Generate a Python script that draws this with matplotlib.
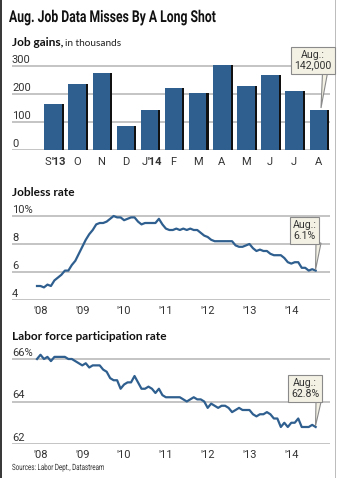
import matplotlib
matplotlib.use("Agg")
import matplotlib.pyplot as plt
from matplotlib.patches import Polygon, Rectangle
from matplotlib.patheffects import AbstractPathEffect
from matplotlib.transforms import Affine2D
import numpy as np

# ---------------- data ----------------
bar_labels = ["S'13", "O", "N", "D", "J'14", "F", "M", "A", "M", "J", "J", "A"]
job_gains = [164, 237, 274, 84, 144, 222, 203, 304, 229, 267, 212, 142]

# monthly, Dec 2007 .. Aug 2014
jobless = [5.0,
           5.0, 4.9, 5.1, 5.0, 5.4, 5.6, 5.8, 6.1, 6.1, 6.5, 6.8, 7.3,
           7.8, 8.3, 8.7, 9.0, 9.4, 9.5, 9.5, 9.6, 9.8, 10.0, 9.9, 9.9,
           9.7, 9.8, 9.9, 9.9, 9.6, 9.4, 9.5, 9.5, 9.5, 9.5, 9.8, 9.4,
           9.1, 9.0, 9.0, 9.1, 9.0, 9.1, 9.0, 9.1, 9.0, 9.0, 8.8, 8.6,
           8.5, 8.3, 8.2, 8.2, 8.2, 8.2, 8.2, 8.2, 7.9, 7.8, 7.8, 7.9,
           8.0, 7.7, 7.5, 7.6, 7.5, 7.5, 7.3, 7.2, 7.2, 7.2, 7.0, 6.7,
           6.6, 6.7, 6.7, 6.3, 6.3, 6.1, 6.2, 6.1]
participation = [66.0,
                 66.2, 66.0, 66.1, 65.9, 66.1, 66.1, 66.1, 66.1, 66.0, 66.0, 65.9, 65.8,
                 65.7, 65.8, 65.6, 65.7, 65.7, 65.7, 65.5, 65.4, 65.1, 65.0, 65.0, 64.6,
                 64.8, 64.9, 64.9, 65.2, 64.9, 64.6, 64.6, 64.7, 64.6, 64.4, 64.6, 64.3,
                 64.2, 64.2, 64.2, 64.2, 64.2, 64.1, 64.0, 64.1, 64.2, 64.1, 64.1, 64.0,
                 63.7, 63.9, 63.8, 63.7, 63.8, 63.8, 63.7, 63.5, 63.6, 63.7, 63.6, 63.6,
                 63.6, 63.4, 63.3, 63.4, 63.4, 63.5, 63.4, 63.2, 63.2, 62.8, 63.0, 62.8,
                 63.0, 63.0, 63.2, 62.8, 62.8, 62.8, 62.9, 62.8]
start_year = 2007 + 11 / 12  # Dec 2007
year_ticks = [2008, 2009, 2010, 2011, 2012, 2013, 2014]
year_labels = ["'08", "'09", "'10", "'11", "'12", "'13", "'14"]

bar_yticks = [0, 100, 200, 300]
bar_ylabels = ["0", "100", "200", "300"]
jl_yticks = [4, 6, 8, 10]
jl_ylabels = ["4", "6", "8", "10%"]
pr_yticks = [62, 64, 66]
pr_ylabels = ["62", "64", "66%"]

title = "Aug. Job Data Misses By A Long Shot"
note_bar = "Aug.:\n142,000"
note_jl = "Aug.:\n6.1%"
note_pr = "Aug.:\n62.8%"
source = "Sources: Labor Dept., Datastream"

# ---------------- style ----------------
BLUE = "#2f5f8f"
GRID = "#b4b4b4"
TXT = "#333333"
BOXFC = "#f3f1e4"
BOXEC = "#8a8a8a"
HEAD = ["Lato", "DejaVu Sans"]
TICK = ["Roboto", "DejaVu Sans"]

W, H = 345, 478
fig = plt.figure(figsize=(W / 100, H / 100), dpi=100)
fig.patch.set_facecolor("white")


class HScale(AbstractPathEffect):
    """Draw text glyphs horizontally condensed about display x0."""

    def __init__(self, sx, x0):
        super().__init__()
        self.sx = sx
        self.x0 = x0

    def draw_path(self, renderer, gc, tpath, affine, rgbFace=None):
        a = affine + Affine2D().translate(-self.x0, 0).scale(self.sx, 1).translate(self.x0, 0)
        renderer.draw_path(gc, tpath, a, rgbFace)


def px_axes(l, t, r, b):
    return fig.add_axes([l / W, 1 - b / H, (r - l) / W, (b - t) / H])


def fpx(x, y):
    return (x / W, 1 - y / H)


def style(ax):
    for s in ax.spines.values():
        s.set_visible(False)
    ax.set_xticks([])
    ax.set_yticks([])
    ax.patch.set_alpha(0)


def ylabels(ax, ticks, labels):
    tr = ax.get_yaxis_transform()
    for v, l in zip(ticks, labels):
        ax.axhline(v, color=GRID, lw=1.1, zorder=0)
        ax.annotate(l, xy=(0, v), xycoords=tr, xytext=(0, 2.2),
                    textcoords="offset points", ha="left", va="baseline",
                    fontsize=8, color=TXT, family=TICK)


def callout(text, box_c, tip, base):
    pts = [fpx(base[0], base[2]), fpx(base[1], base[2]), fpx(*tip)]
    fig.patches.append(Polygon(pts, closed=True, transform=fig.transFigure,
                               fc=BOXFC, ec=BOXEC, lw=0.8, zorder=5))
    fig.text(*fpx(*box_c), text, ha="center", va="center", fontsize=7.6,
             color=TXT, family=TICK, linespacing=1.05, zorder=6,
             bbox=dict(boxstyle="square,pad=0.28", fc=BOXFC, ec=BOXEC, lw=0.8))


# title (condensed drawing of a real text)
fig.text(*fpx(9, 22), title, fontsize=11.8, fontweight="bold", family=TICK,
         color="#111111", va="baseline", ha="left",
         path_effects=[HScale(0.745, 9)])

# ---------------- bar chart ----------------
ax1 = px_axes(12, 60.4, 330, 150)
style(ax1)
idx = np.arange(len(job_gains))
pitch_px = 24.12
off = 2.2 / pitch_px
bw = 17.4 / pitch_px
ax1.bar(idx + off, job_gains, width=bw, color="#111111", zorder=2)
ax1.bar(idx, job_gains, width=bw, color=BLUE, zorder=3)
ax1.set_xlim(-(53.0 - 12) / pitch_px, 11 + (330 - 318.3) / pitch_px)
ax1.set_ylim(0, 320)
ylabels(ax1, bar_yticks, bar_ylabels)
xt = ax1.get_xaxis_transform()
for i, l in enumerate(bar_labels):
    if "'" in l:
        a, b = l.split("'")
        ax1.text(i - 0.08, -0.13, a, transform=xt, ha="right", va="center",
                 fontsize=8, color=TXT, family=TICK)
        ax1.text(i - 0.06, -0.13, "'" + b, transform=xt, ha="left", va="center",
                 fontsize=8, color=TXT, family=TICK, fontweight="bold")
    else:
        ax1.text(i, -0.13, l, transform=xt, ha="center", va="center",
                 fontsize=8, color=TXT, family=TICK)

fig.text(*fpx(12, 46.5), "Job gains,", fontsize=8.6, fontweight="bold",
         family=HEAD, color="#111111", va="baseline")
fig.text(*fpx(65, 46.5), "in thousands", fontsize=7.2, family=HEAD,
         color="#222222", va="baseline")

callout(note_bar, (313, 60.5), (321, 108), (322.5, 327.5, 73))

# ---------------- time axes ----------------
x0px, ppy = 37.0, 41.8  # Dec 2007 position, px per year
tl = start_year - (x0px - 12) / ppy
tr_ = start_year + (330 - x0px) / ppy


def months(n):
    return start_year + np.arange(n) / 12


def time_xlabels(ax):
    tr = ax.get_xaxis_transform()
    for t, l in zip(year_ticks, year_labels):
        ax.annotate(l, xy=(t, 0), xycoords=tr, xytext=(0, -4.5),
                    textcoords="offset points", ha="center", va="top",
                    fontsize=8, color=TXT, family=TICK)


# jobless
ax2 = px_axes(12, 210.4, 330, 300)
style(ax2)
ax2.set_xlim(tl, tr_)
ax2.set_ylim(4, 10.4)
ylabels(ax2, jl_yticks, jl_ylabels)
ax2.plot(months(len(jobless)), jobless, color=BLUE, lw=1.6, zorder=3,
         solid_joinstyle="round")
time_xlabels(ax2)
fig.text(*fpx(12, 196), "Jobless rate", fontsize=8.6, fontweight="bold",
         family=HEAD, color="#111111", va="baseline")
callout(note_jl, (304.5, 230.5), (315.5, 270), (316, 321, 243))

# participation
ax3 = px_axes(12, 350.5, 330, 444)
style(ax3)
ax3.set_xlim(tl, tr_)
ax3.set_ylim(62, 66.4)
ylabels(ax3, pr_yticks, pr_ylabels)
ax3.plot(months(len(participation)), participation, color=BLUE, lw=1.6,
         zorder=3, solid_joinstyle="round")
time_xlabels(ax3)
fig.text(*fpx(12, 340), "Labor force participation rate", fontsize=8.6,
         fontweight="bold", family=HEAD, color="#111111", va="baseline")
callout(note_pr, (305, 388.5), (315.5, 426), (316, 321, 402))

fig.text(*fpx(12, 470), source, fontsize=6.2, family=TICK, color=TXT,
         va="baseline", path_effects=[HScale(0.72, 12)])

# frame
fig.patches.append(Rectangle((0, 0), 2 / W, 1, transform=fig.transFigure,
                             fc="#3a3a3a", ec="none"))
fig.patches.append(Rectangle((335 / W, 0), 1.2 / W, 1, transform=fig.transFigure,
                             fc="#bdbdbd", ec="none"))

fig.savefig("out.png", dpi=100)
